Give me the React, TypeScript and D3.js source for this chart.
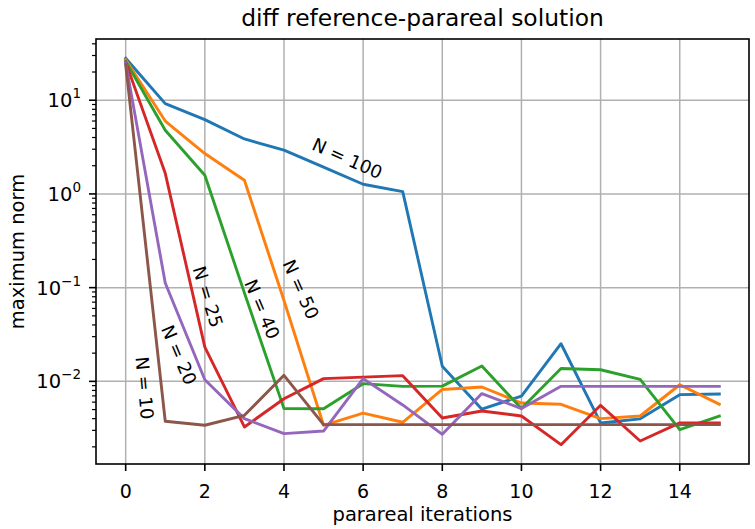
import React from "react";
import * as d3 from "d3";

// Parareal iteration index
const iterations = [0, 1, 2, 3, 4, 5, 6, 7, 8, 9, 10, 11, 12, 13, 14, 15];

// Maximum-norm difference between reference and parareal solution, per N
const errN100 = [28, 9.2, 6.2, 3.86, 2.93, 1.93, 1.27, 1.06, 0.0145, 0.00504, 0.00697, 0.0252, 0.0036, 0.00398, 0.00721, 0.00733];
const errN50 = [27, 6.0, 2.7, 1.4, 0.073, 0.0034, 0.00459, 0.00366, 0.0082, 0.0087, 0.00587, 0.00569, 0.004, 0.00427, 0.0092, 0.0057];
const errN40 = [26, 4.79, 1.58, 0.088, 0.00512, 0.0051, 0.00945, 0.00885, 0.0089, 0.0146, 0.00512, 0.0137, 0.0133, 0.0105, 0.00305, 0.00427];
const errN25 = [25.5, 1.66, 0.0232, 0.00326, 0.00653, 0.0107, 0.0111, 0.0115, 0.00406, 0.00483, 0.00427, 0.00211, 0.00555, 0.00231, 0.0036, 0.0036];
const errN20 = [25, 0.112, 0.0104, 0.004, 0.00277, 0.00295, 0.0107, 0.0056, 0.00272, 0.0074, 0.00512, 0.00885, 0.00885, 0.00885, 0.00885, 0.00885];
const errN10 = [24, 0.00375, 0.0034, 0.00434, 0.0116, 0.00345, 0.00345, 0.00345, 0.00345, 0.00345, 0.00345, 0.00345, 0.00345, 0.00345, 0.00345, 0.00345];

const seriesNames = ["N = 100", "N = 50", "N = 40", "N = 25", "N = 20", "N = 10"];
const seriesValues = [errN100, errN50, errN40, errN25, errN20, errN10];
const seriesColors = ["#1f77b4", "#ff7f0e", "#2ca02c", "#d62728", "#9467bd", "#8c564b"];

// Inline curve labels: anchor in data coordinates and rotation in degrees
const labelX = [5.6, 4.43, 3.45, 2.08, 1.35, 0.48];
const labelY = [2.4, 0.096, 0.059, 0.08, 0.0192, 0.0085];
const labelRotation = [24, 66, 67, 73, 67, 85];

const xTicks = [0, 2, 4, 6, 8, 10, 12, 14];
const yTickExps = [-2, -1, 0, 1];

const W = 755;
const H = 529;
const M = { left: 96, right: 749, top: 39, bottom: 464 };
const FONT = "DejaVu Sans, sans-serif";

export default function App() {
  const allVals = seriesValues.flat();
  const [lo, hi] = d3.extent(allVals) as [number, number];
  const llo = Math.log10(lo);
  const lhi = Math.log10(hi);
  const pad = (lhi - llo) * 0.05;

  const x = d3.scaleLinear().domain([-0.75, 15.75]).range([M.left, M.right]);
  const y = d3
    .scaleLog()
    .domain([Math.pow(10, llo - pad), Math.pow(10, lhi + pad)])
    .range([M.bottom, M.top]);

  const line = d3
    .line<number>()
    .x((_, i) => x(iterations[i]))
    .y((d) => y(d));

  // minor ticks at 2..9 x 10^k inside the domain
  const [dLo, dHi] = y.domain();
  const minor: number[] = [];
  for (let k = -4; k <= 2; k++) {
    for (let m = 2; m <= 9; m++) {
      const v = m * Math.pow(10, k);
      if (v >= dLo && v <= dHi) minor.push(v);
    }
  }

  const expLabel = (e: number) => (e < 0 ? "\u2212" + Math.abs(e) : String(e));

  return (
    <svg width={W} height={H} style={{ display: "block", position: "absolute", left: 0, top: 0, background: "#fff" }}>
      <rect x={0} y={0} width={W} height={H} fill="#fff" />
      <defs>
        <clipPath id="plotArea">
          <rect x={M.left} y={M.top} width={M.right - M.left} height={M.bottom - M.top} />
        </clipPath>
      </defs>

      {/* grid */}
      <g stroke="#b0b0b0" strokeWidth={1.5}>
        {xTicks.map((t) => (
          <line key={"gx" + t} x1={x(t)} x2={x(t)} y1={M.top} y2={M.bottom} />
        ))}
        {yTickExps.map((e) => (
          <line key={"gy" + e} x1={M.left} x2={M.right} y1={y(Math.pow(10, e))} y2={y(Math.pow(10, e))} />
        ))}
      </g>

      {/* data lines */}
      <g clipPath="url(#plotArea)" fill="none" strokeWidth={2.9} strokeLinejoin="round" strokeLinecap="square">
        {seriesValues.map((vals, i) => (
          <path key={seriesNames[i]} d={line(vals) || ""} stroke={seriesColors[i]} />
        ))}
      </g>

      {/* curve labels */}
      <g fontFamily={FONT} fontSize={18} fill="#000">
        {seriesNames.map((name, i) => {
          const px = x(labelX[i]);
          const py = y(labelY[i]);
          return (
            <text
              key={"lab" + name}
              x={px}
              y={py}
              textAnchor="middle"
              dominantBaseline="central"
              transform={`rotate(${labelRotation[i]} ${px} ${py})`}
            >
              {name}
            </text>
          );
        })}
      </g>

      {/* spines */}
      <rect
        x={M.left}
        y={M.top}
        width={M.right - M.left}
        height={M.bottom - M.top}
        fill="none"
        stroke="#000"
        strokeWidth={1.6}
      />

      {/* ticks */}
      <g stroke="#000" strokeWidth={1.6}>
        {xTicks.map((t) => (
          <line key={"tx" + t} x1={x(t)} x2={x(t)} y1={M.bottom} y2={M.bottom + 7} />
        ))}
        {yTickExps.map((e) => (
          <line key={"ty" + e} x1={M.left - 7} x2={M.left} y1={y(Math.pow(10, e))} y2={y(Math.pow(10, e))} />
        ))}
      </g>
      <g stroke="#000" strokeWidth={1.2}>
        {minor.map((v) => (
          <line key={"tm" + v} x1={M.left - 4} x2={M.left} y1={y(v)} y2={y(v)} />
        ))}
      </g>

      <g fontFamily={FONT} fill="#000">
        {xTicks.map((t) => (
          <text key={"lx" + t} x={x(t)} y={M.bottom + 34} textAnchor="middle" fontSize={19}>
            {t}
          </text>
        ))}
        {yTickExps.map((e) => (
          <text key={"ly" + e} x={M.left - 15} y={y(Math.pow(10, e)) + 7} textAnchor="end" fontSize={19.5}>
            10
            <tspan dy={-9} fontSize={13.5}>
              {expLabel(e)}
            </tspan>
          </text>
        ))}
      </g>

      {/* axis titles */}
      <text x={(M.left + M.right) / 2} y={521} textAnchor="middle" fontFamily={FONT} fontSize={19.5} fill="#000">
        parareal iterations
      </text>
      <text
        transform={`translate(24, ${(M.top + M.bottom) / 2}) rotate(-90)`}
        textAnchor="middle"
        fontFamily={FONT}
        fontSize={19.5}
        fill="#000"
      >
        maximum norm
      </text>
      <text x={(M.left + M.right) / 2} y={26} textAnchor="middle" fontFamily={FONT} fontSize={23.4} fill="#000">
        diff reference-parareal solution
      </text>
    </svg>
  );
}
